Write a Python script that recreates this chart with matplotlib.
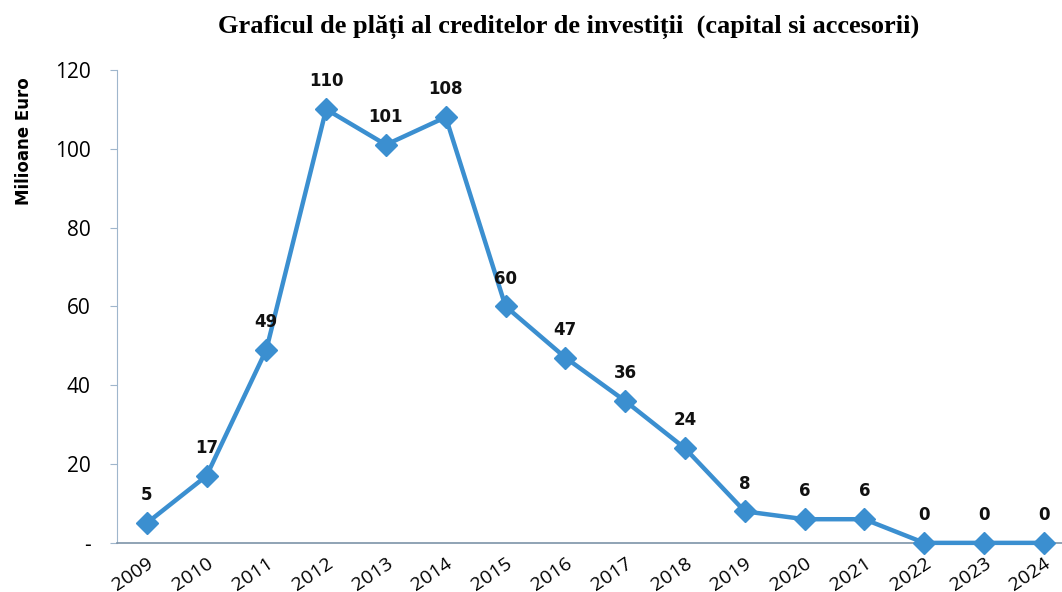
import numpy as np
import matplotlib
matplotlib.use("Agg")
import matplotlib.pyplot as plt

# date grafic
ani = ["2009", "2010", "2011", "2012", "2013", "2014", "2015", "2016",
       "2017", "2018", "2019", "2020", "2021", "2022", "2023", "2024"]
valori = [5, 17, 49, 110, 101, 108, 60, 47, 36, 24, 8, 6, 6, 0, 0, 0]
y_ticks = [0, 20, 40, 60, 80, 100, 120]
y_labels = ["-", "20", "40", "60", "80", "100", "120"]

culoare = "#3b8fd0"

fig = plt.figure(figsize=(10.62, 5.92), dpi=100)
ax = fig.add_axes([0.110, 0.083, 0.901, 0.799])

x = np.arange(len(ani))
ax.plot(x, valori, color=culoare, lw=3.2, marker="D", markersize=11,
        markeredgecolor=culoare, zorder=3, clip_on=False)

for xi, v in zip(x, valori):
    ax.annotate(str(v), (xi, v), xytext=(0, 20), textcoords="offset points",
                ha="center", va="center", fontsize=12, fontweight="bold",
                family="DejaVu Sans", color="#111111")

ax.set_xlim(-0.5, len(ani) - 0.5)
ax.set_ylim(0, 120)
ax.set_yticks(y_ticks)
ax.set_yticklabels(y_labels, fontsize=15, family="Open Sans")
ax.set_xticks(x)
ax.set_xticklabels(ani, rotation=34, ha="right", rotation_mode="anchor",
                   fontsize=14, family="Open Sans")
ax.tick_params(axis="x", length=0, pad=8)
ax.tick_params(axis="y", length=5, color="#9fb6cc", pad=14)

for s in ["top", "right"]:
    ax.spines[s].set_visible(False)
ax.spines["left"].set_color("#9fb6cc")
ax.spines["bottom"].set_color("#7d93a8")
ax.spines["bottom"].set_linewidth(1.2)

ax.set_ylabel("Milioane Euro", fontsize=12, fontweight="bold",
              family="DejaVu Sans")
ax.yaxis.set_label_coords(-0.088, 0.85)

fig.suptitle("Graficul de plăți al creditelor de investiții  (capital si accesorii)",
             x=0.535, y=0.975, fontsize=19, fontweight="bold",
             family="Liberation Serif")

fig.savefig("out.png", dpi=100)
